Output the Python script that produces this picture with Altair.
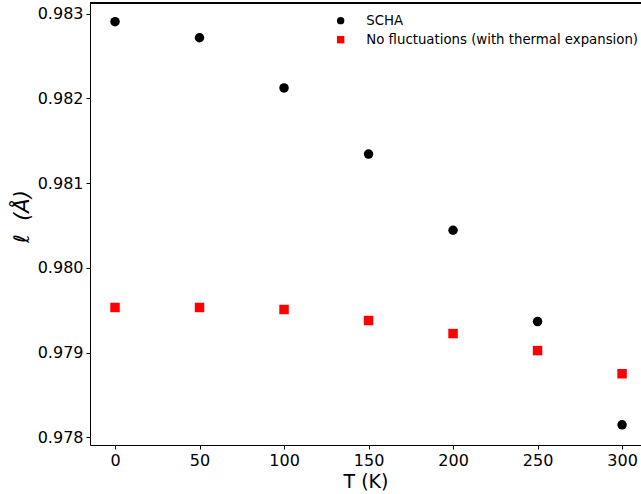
import altair as alt
import pandas as pd

temps = [0, 50, 100, 150, 200, 250, 300]
scha = [0.982905, 0.982716, 0.982124, 0.981343, 0.980444, 0.979367, 0.978148]
nofluct = [0.979533, 0.979533, 0.979509, 0.979379, 0.979225, 0.979024, 0.978751]
series_names = ["SCHA", "No fluctuations (with thermal expansion)"]

rows = []
for t, v in zip(temps, scha):
    rows.append({"T": t, "l": v, "series": series_names[0]})
for t, v in zip(temps, nofluct):
    rows.append({"T": t, "l": v, "series": series_names[1]})
df = pd.DataFrame(rows)

W, H = 551, 442
font = "DejaVu Sans"

points = alt.Chart(df).mark_point(filled=True, opacity=1, size=90).encode(
    x=alt.X("T:Q", scale=alt.Scale(domain=[-14.8, 311.2], nice=False, zero=False),
            axis=alt.Axis(values=[0, 50, 100, 150, 200, 250, 300], title="T (K)",
                          grid=False, domainColor="black", tickColor="black",
                          tickSize=4, labelFontSize=16, labelFont=font, labelColor="black",
                          labelPadding=3, titleFontSize=19, titleFont=font,
                          titleFontWeight="normal", titleColor="black", titlePadding=4,
                          labelFlush=False)),
    y=alt.Y("l:Q", scale=alt.Scale(domain=[0.97791, 0.983126], nice=False, zero=False),
            axis=alt.Axis(values=[0.978, 0.979, 0.980, 0.981, 0.982, 0.983], format=".3f",
                          title="ℓ\u00a0\u00a0(Å)", grid=False, domainColor="black", tickColor="black",
                          tickSize=4, labelFontSize=16, labelFont=font, labelColor="black",
                          labelPadding=3, titleFontSize=21, titleFont=font,
                          titleFontWeight="normal", titleFontStyle="italic",
                          titleColor="black", titleX=-68, titleY=213,
                          titleBaseline="middle", titleAlign="center", titleAngle=270,
                          labelFlush=False)),
    color=alt.Color("series:N", scale=alt.Scale(domain=series_names, range=["black", "red"]),
                    legend=alt.Legend(title=None, orient="none", legendX=244, legendY=11,
                                      labelFontSize=13.3, labelFont=font, labelColor="black",
                                      symbolSize=55, rowPadding=5, padding=0, labelLimit=0,
                                      labelOffset=19, symbolOpacity=1, symbolStrokeWidth=0)),
    shape=alt.Shape("series:N", scale=alt.Scale(domain=series_names, range=["circle", "square"]),
                    legend=None),
)

top = alt.Chart(df).mark_rule(color="black", strokeWidth=1).encode(
    x=alt.value(0), x2=alt.value(W), y=alt.value(0)
)

chart = alt.layer(points, top).properties(
    width=W, height=H,
    autosize=alt.AutoSizeParams(type="none"),
    padding={"left": 90, "top": 3, "right": 0, "bottom": 49},
    background="white",
).configure_view(stroke=None)

chart.save("out.html", embed_options={"renderer": "svg", "actions": False})
